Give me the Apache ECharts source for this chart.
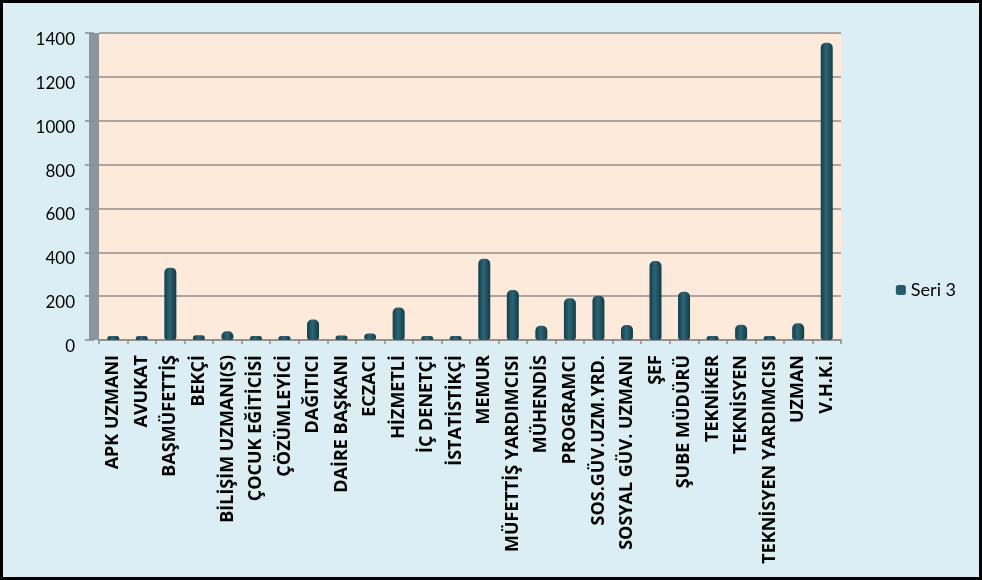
<!DOCTYPE html>
<html><head><meta charset="utf-8">
<script src="https://cdn.jsdelivr.net/npm/echarts@6/dist/echarts.min.js"></script>
<style>
html,body{margin:0;padding:0;background:#000;}
#c{width:982px;height:580px;box-sizing:border-box;border:3px solid #000;}
</style></head>
<body><div id="c"></div>
<script>
const categories = ["APK UZMANI","AVUKAT","BAŞMÜFETTİŞ","BEKÇİ","BİLİŞİM UZMANI(S)","ÇOCUK EĞİTİCİSİ","ÇÖZÜMLEYİCİ","DAĞITICI","DAİRE BAŞKANI","ECZACI","HİZMETLİ","İÇ DENETÇİ","İSTATİSTİKÇİ","MEMUR","MÜFETTİŞ YARDIMCISI","MÜHENDİS","PROGRAMCI","SOS.GÜV.UZM.YRD.","SOSYAL GÜV. UZMANI","ŞEF","ŞUBE MÜDÜRÜ","TEKNİKER","TEKNİSYEN","TEKNİSYEN YARDIMCISI","UZMAN","V.H.K.İ"];
const seri3 = [10,15,330,22,40,15,12,93,20,30,148,10,10,370,228,65,190,202,68,360,220,17,70,17,76,1355];
const seriesName = "Seri 3";
const yTicks = {min:0, max:1400, interval:200};

const chart = echarts.init(document.getElementById('c'), null, {renderer:'canvas'});
const barColor = new echarts.graphic.LinearGradient(0,0,1,0,[
  {offset:0,color:'#153D48'},{offset:0.45,color:'#2A6676'},{offset:1,color:'#143A45'}]);
chart.setOption({
  backgroundColor:'#DBEEF4',
  animation:false,
  grid:{left:96,right:138,top:30,bottom:237,show:true,backgroundColor:'#FEEADB',borderWidth:0},
  legend:{orient:'vertical',right:18,top:'middle',itemWidth:10,itemHeight:10,itemGap:4,
    data:[{name:seriesName,itemStyle:{color:'#245C6C'}}],
    textStyle:{fontFamily:'Lato, "Open Sans", sans-serif',fontSize:18,color:'#000'}},
  xAxis:{type:'category',data:categories,
    axisLine:{lineStyle:{color:'#8C8C8C',width:1.5}},
    axisTick:{show:true,length:4,lineStyle:{color:'#8C8C8C',width:1.5}},
    axisLabel:{rotate:90,interval:0,margin:15,color:'#000',fontWeight:'bold',fontSize:18,
      fontFamily:'"Open Sans", Lato, sans-serif'}},
  yAxis:{type:'value',min:yTicks.min,max:yTicks.max,interval:yTicks.interval,offset:5,
    axisLine:{show:true,lineStyle:{color:'#8D949B',width:10,cap:'butt'}},
    axisTick:{show:true,length:9,lineStyle:{color:'#8C8C8C',width:1.5}},
    axisLabel:{margin:19,verticalAlign:'top',lineHeight:13,color:'#000',fontSize:17,fontFamily:'Lato, "Open Sans", sans-serif',
      formatter:function(v){return String(v);}},
    splitLine:{show:true,lineStyle:{color:'#8E8E8E',width:1.5}}},
  series:[{name:seriesName,type:'bar',data:seri3,barWidth:12,barMinHeight:4,
    itemStyle:{color:barColor,borderRadius:[5,5,3,3]}}]
});
</script></body></html>
